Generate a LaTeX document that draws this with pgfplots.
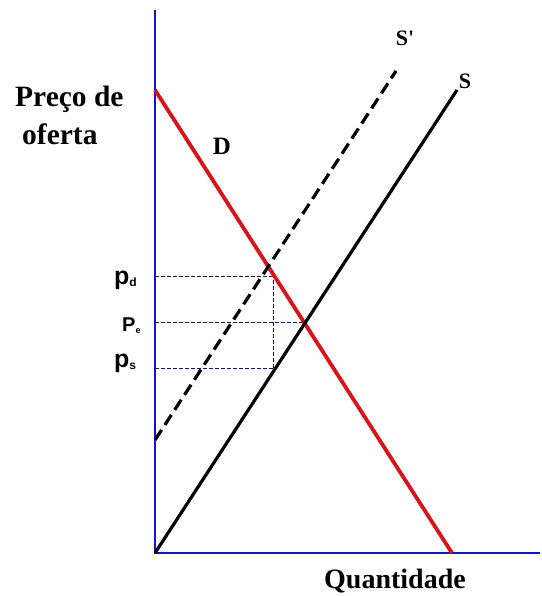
\documentclass[border=0pt]{standalone}
\usepackage{pgfplots}
\pgfplotsset{compat=1.18}
\usepackage{fontspec}
\setmainfont{Liberation Serif}
\newfontfamily\rawserif{Liberation Serif}
\newfontfamily\arial{Liberation Sans}
\definecolor{axblue}{RGB}{20,20,195}
\definecolor{guide}{RGB}{20,20,110}
\definecolor{dred}{RGB}{215,20,25}
\begin{document}
\begin{tikzpicture}[x=1pt,y=1pt]
\begin{axis}[
  scale only axis, width=541pt, height=596pt,
  xmin=-155, xmax=386, ymin=-43, ymax=553,
  hide axis, clip=false]
% axes
\addplot[axblue, line width=2.8pt] coordinates {(0,543) (0,0) (385,0)};
% guide lines
\addplot[guide, line width=0.9pt, dash pattern=on 3.5pt off 2.5pt] coordinates {(0,277) (118,277)};
\addplot[guide, line width=0.9pt, dash pattern=on 3.5pt off 2.5pt] coordinates {(0,231) (148,231)};
\addplot[guide, line width=0.9pt, dash pattern=on 3.5pt off 2.5pt] coordinates {(0,185) (118,185)};
\addplot[guide, line width=0.9pt, dash pattern=on 3.5pt off 2.5pt] coordinates {(118,185) (118,277)};
% demand
\addplot[dred, line width=3.8pt] coordinates {(0,463) (297,0)};
% supply
\addplot[black, line width=3.2pt] coordinates {(0,0) (302,463)};
% shifted supply
\addplot[black, line width=3.2pt, dash pattern=on 12pt off 6pt] coordinates {(0,113) (241,482)};
% labels
\node[font=\bfseries\fontsize{29.5}{29.5}\selectfont, anchor=base west, inner sep=0pt] at (axis cs:-140,446) {Preço de};
\node[font=\bfseries\fontsize{29.5}{29.5}\selectfont, anchor=base west, inner sep=0pt] at (axis cs:-133,408) {oferta};
\node[font=\bfseries\fontsize{25}{25}\selectfont, inner sep=0pt] at (axis cs:67,407) {D};
\node[font=\rawserif\bfseries\fontsize{22}{22}\selectfont, inner sep=0pt] at (axis cs:250,515) {S'};
\node[font=\bfseries\fontsize{22}{22}\selectfont, inner sep=0pt] at (axis cs:310,472) {S};
\node[font=\bfseries\fontsize{28}{28}\selectfont, anchor=base, inner sep=0pt] at (axis cs:240,-35) {Quantidade};
\node[font=\arial\bfseries\fontsize{25}{25}\selectfont, anchor=base west, inner sep=0pt] at (axis cs:-41,268) {p\raisebox{-1.5pt}{\fontsize{12}{12}\selectfont d}};
\node[font=\arial\bfseries\fontsize{20}{20}\selectfont, anchor=base west, inner sep=0pt] at (axis cs:-33,221) {P\raisebox{-2pt}{\fontsize{9}{9}\selectfont e}};
\node[font=\arial\bfseries\fontsize{25}{25}\selectfont, anchor=base west, inner sep=0pt] at (axis cs:-41,185) {p\raisebox{-1.5pt}{\fontsize{12}{12}\selectfont s}};
\end{axis}
\pgfresetboundingbox
\path[use as bounding box] (0,0) rectangle (541,596);
\end{tikzpicture}
\end{document}
